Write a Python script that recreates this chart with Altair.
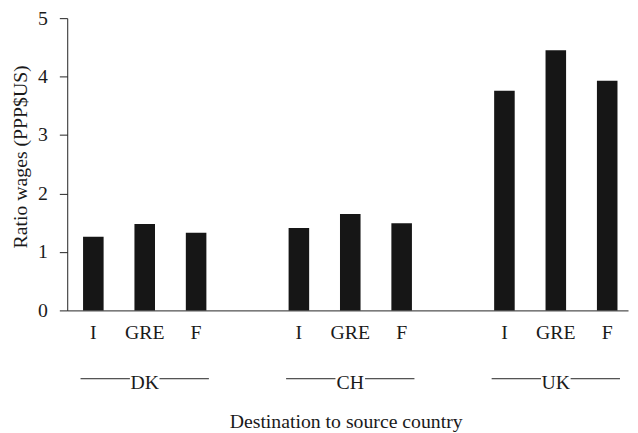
import altair as alt
import pandas as pd

# ---- data ----
groups = ["DK", "CH", "UK"]
sources = ["I", "GRE", "F"]
dk_values = [1.26, 1.48, 1.33]
ch_values = [1.41, 1.65, 1.49]
uk_values = [3.76, 4.45, 3.93]
y_ticks = [0, 1, 2, 3, 4, 5]

series = {"DK": dk_values, "CH": ch_values, "UK": uk_values}
rows = []
for g in groups:
    for s, v in zip(sources, series[g]):
        rows.append({"key": f"{g}|{s}", "group": g, "source": s, "ratio": v})
bars_df = pd.DataFrame(rows)

slots = []
for i, g in enumerate(groups):
    slots += [f"{g}|{s}" for s in sources]
    if i < len(groups) - 1:
        slots.append(f"gap{i}")

group_df = pd.DataFrame({"group": groups, "mid": [f"{g}|{sources[1]}" for g in groups]})

FONT = "Liberation Serif"
INK = "#161616"
TXT = "#1a1a1a"

x_scale = alt.Scale(domain=slots, paddingInner=0.6, paddingOuter=0.2565, align=0.6)

x_axis = alt.Axis(
    title="Destination to source country",
    labelExpr="indexof(datum.value, '|') >= 0 ? split(datum.value, '|')[1] : ''",
    ticks=False,
    tickSize=0,
    labelPadding=28.5,
    labelBaseline="alphabetic",
    labelAngle=0,
    labelFontSize=20,
    titleFontSize=20,
    titleFontWeight="normal",
    titleBaseline="alphabetic",
    titleX=282,
    titleY=118.5,
    domainColor="#222222",
    labelColor=TXT,
    titleColor=TXT,
    grid=False,
)

bars = alt.Chart(bars_df).mark_bar(color=INK).encode(
    x=alt.X("key:N", scale=x_scale, sort=slots, axis=x_axis),
    y=alt.Y(
        "ratio:Q",
        scale=alt.Scale(domain=[0, 5], nice=False, zero=True),
        axis=alt.Axis(
            title="Ratio wages (PPP$US)",
            values=y_ticks,
            format="d",
            tickSize=8,
            tickColor="#222222",
            labelPadding=12,
            labelFontSize=20,
            titleFontSize=20,
            titleFontWeight="normal",
            titleBaseline="alphabetic",
            titleAngle=-90,
            titleX=-41,
            titleY=140,
            domainColor="#222222",
            labelColor=TXT,
            titleColor=TXT,
            grid=False,
        ),
    ),
)

rule_left = alt.Chart(group_df).mark_rule(
    color="#222222", strokeWidth=1, xOffset=-65, x2Offset=-15
).encode(
    x=alt.X("mid:N", bandPosition=0.5, scale=x_scale, axis=x_axis),
    x2=alt.X2("mid:N", bandPosition=0.5),
    y=alt.value(365.2),
)

rule_right = alt.Chart(group_df).mark_rule(
    color="#222222", strokeWidth=1, xOffset=15, x2Offset=65
).encode(
    x=alt.X("mid:N", bandPosition=0.5, scale=x_scale, axis=x_axis),
    x2=alt.X2("mid:N", bandPosition=0.5),
    y=alt.value(365.2),
)

group_labels = alt.Chart(group_df).mark_text(
    font=FONT, fontSize=20, color=TXT, baseline="alphabetic", align="center"
).encode(
    x=alt.X("mid:N", bandPosition=0.5, scale=x_scale, axis=x_axis),
    y=alt.value(375.2),
    text="group:N",
)

chart = alt.layer(bars, rule_left, rule_right, group_labels).properties(
    width=568,
    height=296,
    autosize=alt.AutoSizeParams(type="none"),
    padding={"left": 60, "top": 7.5, "right": 2, "bottom": 130},
).configure_view(stroke=None).configure_axis(
    labelFont=FONT, titleFont=FONT
).configure_text(font=FONT)

chart.save("out.html", embed_options={"renderer": "svg", "actions": False})
